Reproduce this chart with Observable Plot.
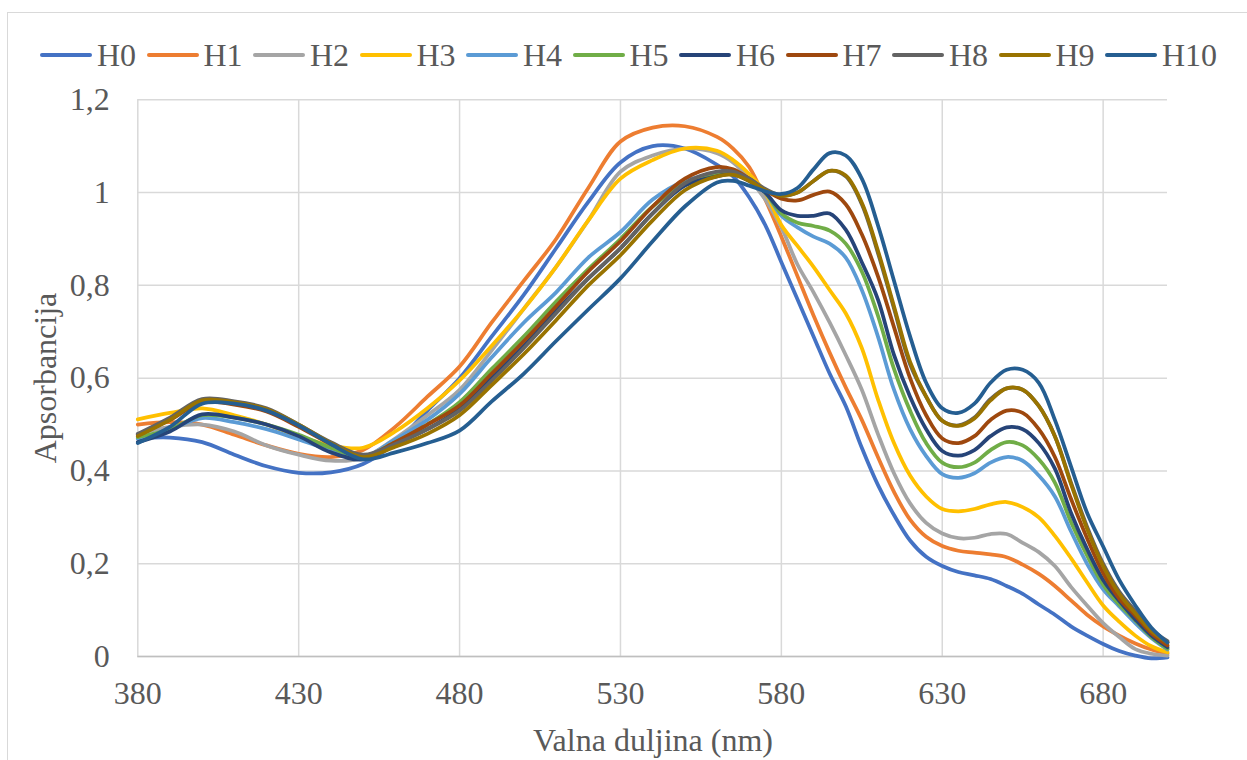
<!DOCTYPE html>
<html>
<head>
<meta charset="utf-8">
<script src="https://cdn.jsdelivr.net/npm/d3@7"></script>
<script src="https://cdn.jsdelivr.net/npm/@observablehq/plot@0.6"></script>
<style>
  html, body { margin: 0; padding: 0; background: #fff; }
  #wrap { position: relative; width: 1247px; height: 760px; overflow: hidden; background: #fff;
          font-family: "Liberation Serif", "Times New Roman", serif; color: #595959; }
  #frame { position: absolute; left: 7px; top: 12px; width: 1260px; height: 770px;
           border: 1.5px solid #d9d9d9; box-sizing: border-box; }
  #chart { position: absolute; left: 0; top: 0; }
  #legend { position: absolute; left: 40px; top: 35px; height: 40px; display: flex; align-items: center; }
  .item { display: flex; align-items: center; width: 106.5px; flex: none; }
  .sw { width: 52px; height: 4px; border-radius: 2px; margin-right: 5px; flex: none; }
  .lab { font-size: 32px; line-height: 40px; white-space: nowrap; }
  #ytitle { position: absolute; left: 45px; top: 378px; transform: translate(-50%, -50%) rotate(-90deg);
            font-size: 32px; white-space: nowrap; }
  #xtitle { position: absolute; left: 653px; top: 740px; transform: translate(-50%, -50%);
            font-size: 32px; white-space: nowrap; }
</style>
</head>
<body>
<div id="wrap">
  <div id="frame"></div>
  <div id="chart"></div>
  <div id="legend"></div>
  <div id="ytitle">Apsorbancija</div>
  <div id="xtitle">Valna duljina (nm)</div>
</div>
<script>
const wavelengths = [380,390,400,410,420,430,440,450,460,470,480,490,500,510,520,530,540,550,560,
  565,570,575,580,585,590,595,600,605,610,615,620,625,630,635,640,645,650,655,660,665,670,675,680,685,690,695,700];

const H0 = [0.470,0.472,0.462,0.435,0.410,0.396,0.397,0.415,0.460,0.530,0.600,0.690,0.780,0.880,0.980,1.065,1.100,1.095,1.060,
  1.035,0.990,0.930,0.850,0.770,0.690,0.610,0.540,0.450,0.370,0.305,0.250,0.215,0.195,0.182,0.175,0.167,0.152,0.135,0.112,0.090,0.065,0.045,0.027,0.012,0.002,-0.004,-0.002];
const H1 = [0.500,0.505,0.500,0.478,0.455,0.437,0.430,0.445,0.495,0.560,0.625,0.720,0.810,0.900,1.010,1.110,1.140,1.143,1.120,
  1.095,1.055,0.985,0.905,0.820,0.735,0.655,0.580,0.510,0.430,0.355,0.295,0.258,0.238,0.228,0.224,0.220,0.214,0.198,0.178,0.152,0.121,0.090,0.065,0.045,0.028,0.015,0.006];
const H2 = [0.480,0.495,0.500,0.485,0.455,0.435,0.422,0.428,0.470,0.520,0.575,0.660,0.750,0.840,0.940,1.045,1.080,1.095,1.085,
  1.065,1.030,0.985,0.925,0.845,0.785,0.720,0.650,0.575,0.480,0.395,0.330,0.288,0.265,0.255,0.256,0.264,0.264,0.245,0.225,0.195,0.150,0.110,0.072,0.042,0.016,0.006,0.002];
const H3 = [0.511,0.525,0.535,0.520,0.500,0.475,0.455,0.450,0.485,0.535,0.595,0.670,0.750,0.840,0.940,1.030,1.070,1.095,1.090,
  1.070,1.040,1.000,0.930,0.885,0.840,0.790,0.740,0.665,0.555,0.460,0.390,0.345,0.318,0.313,0.318,0.328,0.333,0.322,0.300,0.260,0.212,0.160,0.110,0.075,0.045,0.022,0.009];
const H4 = [0.470,0.490,0.514,0.505,0.490,0.468,0.445,0.430,0.468,0.510,0.566,0.645,0.720,0.785,0.860,0.915,0.985,1.025,1.040,
  1.040,1.025,1.000,0.950,0.925,0.905,0.890,0.860,0.790,0.690,0.575,0.490,0.432,0.393,0.385,0.395,0.418,0.430,0.422,0.390,0.345,0.270,0.200,0.145,0.108,0.072,0.040,0.015];
const H5 = [0.473,0.490,0.520,0.515,0.500,0.478,0.450,0.430,0.462,0.500,0.548,0.620,0.690,0.765,0.835,0.900,0.970,1.020,1.040,
  1.042,1.030,1.000,0.955,0.935,0.928,0.918,0.890,0.830,0.735,0.620,0.530,0.460,0.418,0.408,0.418,0.445,0.462,0.455,0.425,0.375,0.290,0.218,0.155,0.112,0.078,0.042,0.017];
const H6 = [0.462,0.485,0.522,0.515,0.500,0.475,0.440,0.425,0.458,0.490,0.534,0.600,0.670,0.745,0.815,0.880,0.955,1.015,1.035,
  1.040,1.025,1.000,0.962,0.950,0.950,0.955,0.920,0.850,0.770,0.650,0.560,0.490,0.443,0.433,0.445,0.475,0.494,0.490,0.460,0.405,0.310,0.232,0.165,0.120,0.080,0.045,0.020];
const H7 = [0.478,0.510,0.548,0.543,0.528,0.495,0.458,0.432,0.462,0.500,0.541,0.610,0.680,0.755,0.830,0.895,0.970,1.030,1.055,
  1.050,1.030,1.005,0.987,0.983,0.995,1.002,0.975,0.910,0.820,0.710,0.600,0.520,0.470,0.460,0.475,0.510,0.530,0.525,0.490,0.430,0.340,0.255,0.180,0.125,0.088,0.050,0.024];
const H8 = [0.480,0.515,0.555,0.550,0.535,0.500,0.462,0.435,0.458,0.490,0.530,0.595,0.665,0.740,0.815,0.880,0.955,1.020,1.045,
  1.045,1.030,1.008,0.994,1.000,1.025,1.047,1.035,0.975,0.870,0.750,0.630,0.560,0.508,0.498,0.515,0.555,0.578,0.575,0.540,0.475,0.375,0.280,0.200,0.140,0.098,0.058,0.033];
const H9 = [0.475,0.510,0.552,0.548,0.533,0.500,0.460,0.430,0.452,0.480,0.520,0.585,0.652,0.725,0.800,0.865,0.940,1.005,1.035,
  1.038,1.025,1.005,0.993,1.000,1.025,1.047,1.037,0.978,0.875,0.755,0.635,0.560,0.508,0.497,0.513,0.552,0.578,0.575,0.540,0.475,0.372,0.275,0.195,0.135,0.093,0.055,0.030];
const H10 = [0.460,0.495,0.545,0.545,0.530,0.498,0.458,0.425,0.440,0.460,0.487,0.550,0.610,0.680,0.748,0.815,0.895,0.970,1.022,
  1.025,1.015,1.003,0.997,1.010,1.050,1.085,1.080,1.030,0.930,0.810,0.690,0.590,0.535,0.525,0.545,0.590,0.618,0.618,0.590,0.510,0.410,0.310,0.237,0.165,0.110,0.062,0.030];

const seriesNames = ["H0","H1","H2","H3","H4","H5","H6","H7","H8","H9","H10"];
const seriesValues = [H0,H1,H2,H3,H4,H5,H6,H7,H8,H9,H10];
const seriesColors = ["#4472C4","#ED7D31","#A5A5A5","#FFC000","#5B9BD5","#70AD47","#264478","#9E480E","#636363","#997300","#255E91"];
const xTicks = [380,430,480,530,580,630,680];
const yTicks = [0,0.2,0.4,0.6,0.8,1,1.2];

const data = [];
seriesNames.forEach((name, i) => {
  wavelengths.forEach((w, j) => data.push({series: name, wl: w, v: seriesValues[i][j]}));
});

const fmtY = d => d3.format(".1~f")(d).replace(".", ",");

const chart = Plot.plot({
  width: 1247,
  height: 760,
  marginLeft: 137.3,
  marginRight: 80,
  marginTop: 99.3,
  marginBottom: 104,
  style: {fontFamily: "'Liberation Serif', 'Times New Roman', serif", color: "#595959", background: "transparent", overflow: "visible"},
  x: {domain: [380, 700], ticks: xTicks},
  y: {domain: [0, 1.2], ticks: yTicks},
  color: {domain: seriesNames, range: seriesColors},
  marks: [
    Plot.gridY(yTicks, {stroke: "#d9d9d9", strokeOpacity: 1, strokeWidth: 1.5}),
    Plot.gridX(xTicks, {stroke: "#d9d9d9", strokeOpacity: 1, strokeWidth: 1.5}),
    Plot.ruleY([0], {stroke: "#bfbfbf", strokeWidth: 1.5}),
    Plot.axisX(xTicks, {tickSize: 0, tickPadding: 25, fontSize: 32, fill: "#595959", label: null}),
    Plot.axisY(yTicks, {tickSize: 0, tickPadding: 28, fontSize: 32, fill: "#595959", tickFormat: fmtY, label: null}),
    Plot.line(data, {x: "wl", y: "v", z: "series", stroke: "series", strokeWidth: 3.75, curve: "catmull-rom", clip: false})
  ]
});
document.getElementById("chart").appendChild(chart);

const legend = document.getElementById("legend");
seriesNames.forEach((name, i) => {
  const it = document.createElement("div");
  it.className = "item";
  const sw = document.createElement("div");
  sw.className = "sw";
  sw.style.background = seriesColors[i];
  const lab = document.createElement("span");
  lab.className = "lab";
  lab.textContent = name;
  it.appendChild(sw); it.appendChild(lab);
  legend.appendChild(it);
});
</script>
</body>
</html>
